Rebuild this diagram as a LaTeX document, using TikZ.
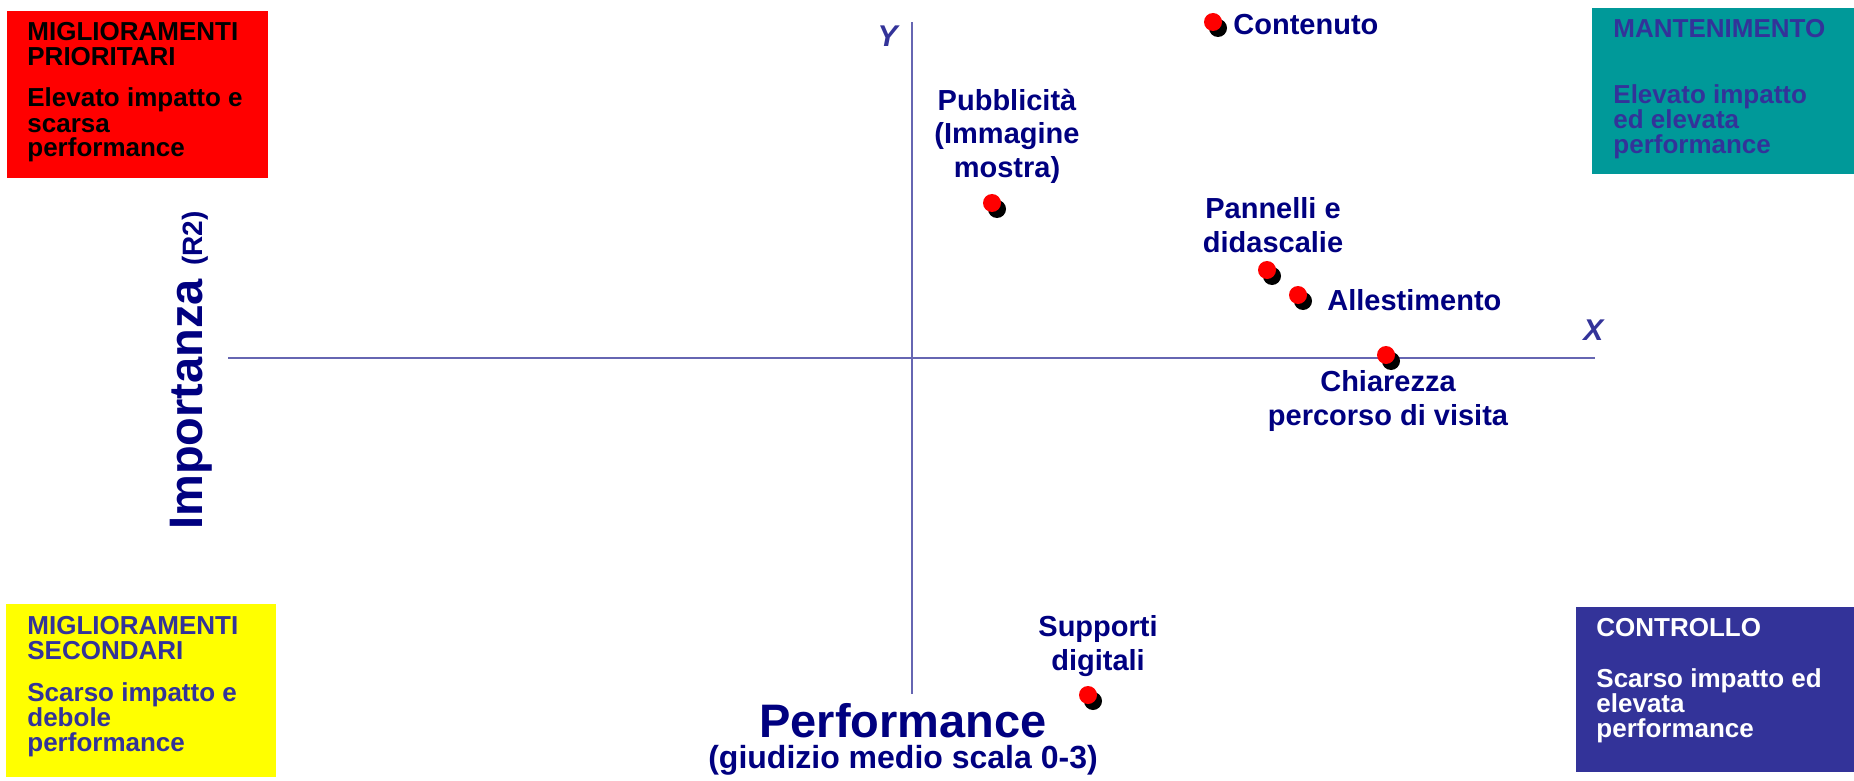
\documentclass[tikz,border=0pt]{standalone}
\usepackage{fontspec}
\setmainfont{Liberation Sans}
\definecolor{qred}{RGB}{255,0,0}
\definecolor{qteal}{RGB}{0,153,153}
\definecolor{qyellow}{RGB}{255,255,0}
\definecolor{qblue}{RGB}{51,51,153}
\definecolor{navy}{RGB}{0,0,128}
\definecolor{axisline}{RGB}{102,102,178}
\tikzset{
  quadtext/.style={anchor=base west, align=left, inner sep=0pt,
    font=\fontsize{13}{12.5}\selectfont\bfseries},
  dotlabel/.style={inner sep=0pt, text=navy, align=center,
    font=\fontsize{14.5}{16.75}\selectfont\bfseries},
  axislabel/.style={inner sep=0pt, text=qblue,
    font=\fontsize{15}{18}\selectfont\bfseries\itshape}
}
\begin{document}
\begin{tikzpicture}[x=0.5pt,y=-0.5pt]
  \useasboundingbox (0,0) rectangle (1854,781);

  % quadrant boxes
  \fill[qred] (7,11) rectangle (268,178);
  \fill[qteal] (1592,8) rectangle (1854,174);
  \fill[qyellow] (6,604) rectangle (276,777);
  \fill[qblue] (1576,607) rectangle (1854,772);

  % base of each box text = baseline of its last line
  \node[quadtext] (prior) at (27,157)
    {MIGLIORAMENTI\\PRIORITARI\\[8.5pt]Elevato impatto e\\scarsa\\performance};
  \node[quadtext, text=qblue] (mant) at (1613,154)
    {MANTENIMENTO\\[20.5pt]Elevato impatto\\ed elevata\\performance};
  \node[quadtext, text=qblue] (second) at (27,751)
    {MIGLIORAMENTI\\SECONDARI\\[8.5pt]Scarso impatto e\\debole\\performance};
  \node[quadtext, text=white] (contr) at (1596,737)
    {CONTROLLO\\[13pt]Scarso impatto ed\\elevata\\performance};

  % axes
  \coordinate (xa) at (228,358);
  \coordinate (xb) at (1595,358);
  \coordinate (ya) at (912,694);
  \coordinate (yb) at (912,22);
  \draw[axisline, line width=1pt] (xa) -- (xb);
  \draw[axisline, line width=1pt] (ya) -- (yb);

  \node[axislabel, anchor=base west] (xlab) at (1583,340) {X};
  \node[axislabel, anchor=base east] (ylab) at (898,47) {Y};

  \node[inner sep=0pt, text=navy, anchor=base, font=\fontsize{23.5}{28}\selectfont\bfseries]
    (perf) at (903,737) {Performance};
  \node[inner sep=0pt, text=navy, anchor=base, font=\fontsize{16}{19}\selectfont\bfseries]
    (giud) at (903,768) {(giudizio medio scala 0-3)};
  \node[inner sep=0pt, text=navy, anchor=base west, rotate=90,
    font=\fontsize{23.5}{28}\selectfont\bfseries]
    (imp) at (202,530) {Importanza {\fontsize{14}{17}\selectfont(R2)}};

  % points
  \foreach \name/\x/\y in {cont/1213/22, pubb/992/203, pann/1267/270,
                           alle/1298/295, chia/1386/355, supp/1088/695}
  {
    \fill[black] (\x+5,\y+6) circle (4.5pt);
    \fill[qred] (\x,\y) circle (4.5pt);
    \coordinate (\name) at (\x,\y);
  }

  \node[dotlabel, anchor=base west] (contlab) at (1233,35) {Contenuto};
  \node[dotlabel, anchor=base] (pubblab) at (1007,177) {Pubblicità\\(Immagine\\mostra)};
  \node[dotlabel, anchor=base] (pannlab) at (1273,252) {Pannelli e\\didascalie};
  \node[dotlabel, anchor=base west] (allelab) at (1327,310) {Allestimento};
  \node[dotlabel, anchor=base] (chialab) at (1388,425) {Chiarezza\\percorso di visita};
  \node[dotlabel, anchor=base] (supplab) at (1098,670) {Supporti\\digitali};
\end{tikzpicture}
\end{document}
